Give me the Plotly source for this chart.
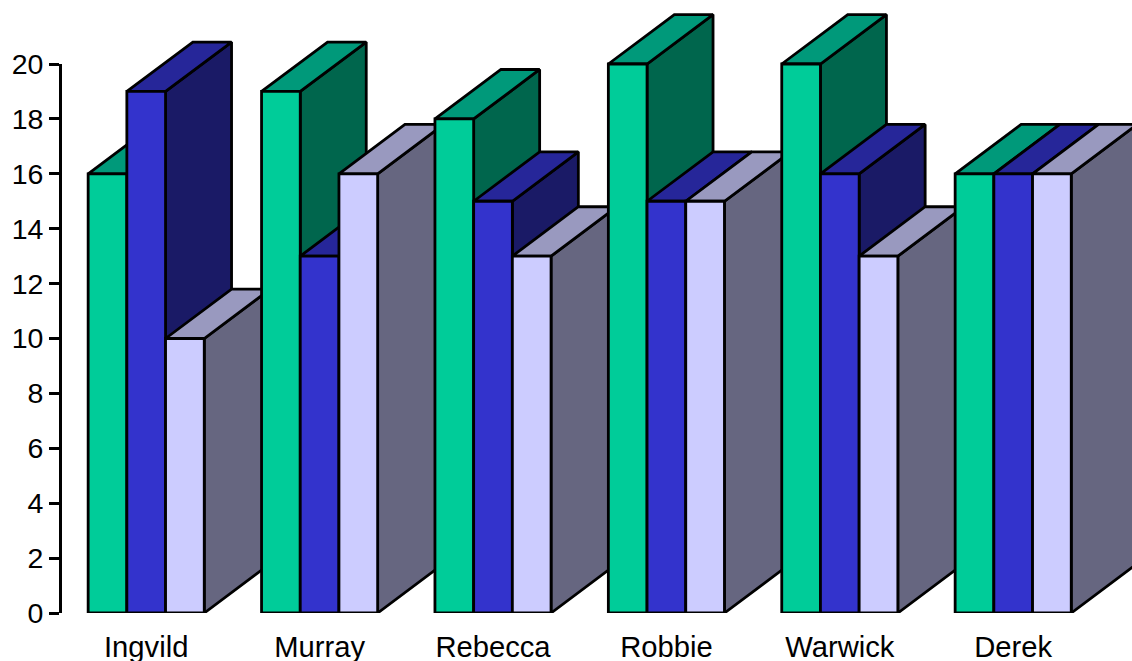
import plotly.graph_objects as go

# Scores per person, one list per series
people = ["Ingvild", "Murray", "Rebecca", "Robbie", "Warwick", "Derek"]
series_a = [16, 19, 18, 20, 20, 16]
series_b = [19, 13, 15, 15, 16, 16]
series_c = [10, 16, 13, 15, 13, 16]
y_ticks = list(range(0, 21, 2))

# Face colours for each series: front, top, side
palette = [
    ("#00CC99", "#00997A", "#00664D"),
    ("#3333CC", "#262699", "#1A1A66"),
    ("#CCCCFF", "#9999BF", "#666680"),
]

BAR_W = 0.2232
DEPTH_X = 0.3806
DEPTH_Y = 1.80
EDGE = dict(color="black", width=2.8)
PLOT_TOP = 613 / 27.45  # value scale continues above 20 for the extruded tops


def face(xs, ys, colour):
    return go.Scatter(
        x=xs + xs[:1], y=ys + ys[:1], mode="lines", fill="toself",
        fillcolor=colour, line=EDGE, hoverinfo="skip", showlegend=False,
    )


fig = go.Figure()

# An empty trace keeps the value axis on the page
fig.add_trace(go.Scatter(x=[None], y=[None], yaxis="y2", showlegend=False, hoverinfo="skip"))

# Painter's order: left to right, so nearer boxes overlap the extruded faces
for i in range(len(people)):
    for k, values in enumerate((series_a, series_b, series_c)):
        v = values[i]
        x0 = i + (k - 1.5) * BAR_W
        x1 = x0 + BAR_W
        front, top, side = palette[k]
        fig.add_trace(face(
            [x1, x1 + DEPTH_X, x1 + DEPTH_X, x1],
            [0, DEPTH_Y, v + DEPTH_Y, v], side))
        fig.add_trace(face(
            [x0, x0 + DEPTH_X, x1 + DEPTH_X, x1],
            [v, v + DEPTH_Y, v + DEPTH_Y, v], top))
        fig.add_trace(face([x0, x0, x1, x1], [0, v, v, 0], front))

FONT_FAMILY = "Liberation Sans, Arial, sans-serif"

fig.update_layout(
    width=1132, height=661, autosize=False,
    margin=dict(l=0, r=0, t=0, b=48, pad=0),
    paper_bgcolor="white", plot_bgcolor="rgba(0,0,0,0)",
    showlegend=False,
    xaxis=dict(
        range=[-146.2 / 173.4, (1132 - 146.2) / 173.4],
        tickmode="array", tickvals=list(range(len(people))), ticktext=people,
        ticks="", showline=False, showgrid=False, zeroline=False,
        tickfont=dict(family=FONT_FAMILY, size=29.2, color="black"),
        ticklabelstandoff=14, automargin=False,
    ),
    # Mark scale: spans the full plot height and stays hidden
    yaxis=dict(range=[0, PLOT_TOP], visible=False, automargin=False),
    # Visible value axis: stops at 20, on the same scale as the marks
    yaxis2=dict(
        range=[0, 20], domain=[0, 20 / PLOT_TOP],
        anchor="free", position=60 / 1132,
        tickmode="array", tickvals=y_ticks,
        ticks="outside", ticklen=10, tickwidth=2.8, tickcolor="black",
        showline=True, linecolor="black", linewidth=2.8,
        showgrid=False, zeroline=False,
        tickfont=dict(family=FONT_FAMILY, size=28.5, color="black"),
        ticklabelstandoff=0, automargin=False,
    ),
)

fig.write_html("out.html")
